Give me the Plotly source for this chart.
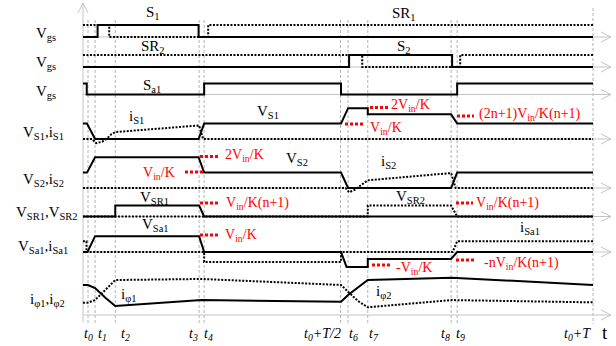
import plotly.graph_objects as go

# ---------------- time instants (t0 = 0, period T = 100) ----------------
t0, t1, t2, t3, t4 = 0.0, 1.4, 5.4, 22.0, 23.0
tH, t6, t7, t8, t9, tT = 50.0, 51.5, 55.4, 71.9, 73.1, 100.0
tick_times = [t0, t1, t2, t3, t4, tH, t6, t7, t8, t9, tT]
tick_labels = ["t<sub>0</sub>", "t<sub>1</sub>", "t<sub>2</sub>", "t<sub>3</sub>", "t<sub>4</sub>",
               "t<sub>0</sub>+T/2", "t<sub>6</sub>", "t<sub>7</sub>", "t<sub>8</sub>", "t<sub>9</sub>",
               "t<sub>0</sub>+T"]

# ---------------- gate signals (0 = off, 1 = on) ----------------
s1_t = [-1, 1.9, 1.9, 21.9, 21.9, 100]
s1_v = [0, 0, 1, 1, 0, 0]
sr1_t = [-1, 4.2, 4.2, 23.8, 23.8, 100]
sr1_v = [1, 1, 0, 0, 1, 1]
s2_t = [-1, 51.7, 51.7, 72.1, 72.1, 100]
s2_v = [0, 0, 1, 1, 0, 0]
sr2_t = [-1, 54.3, 54.3, 73.7, 73.7, 100]
sr2_v = [1, 1, 0, 0, 1, 1]
sa1_t = [-1, -0.25, -0.25, 23, 23, 50.1, 50.1, 73.1, 73.1, 100]
sa1_v = [1, 1, 0, 0, 1, 1, 0, 0, 1, 1]

# ---------------- switch voltages / currents (unit = Vin/K) ----------------
vs1_t = [-1, -0.2, 1.4, 21.9, 23, 50.1, 51.5, 55.4, 55.4, 71.9, 73.1, 100]
vs1_v = [1, 1, 0, 0, 1, 1, 2, 2, 1.6, 1.6, 1, 1]
is1_t = [-1, 0.8, 1.6, 2.8, 3.8, 4.6, 5.4, 22, 22.8, 100]
is1_v = [0, 0, -0.27, -0.18, 0.05, 0.3, 0.45, 0.88, 0, 0]

vs2_t = [-1, -0.2, 1.4, 21.9, 23, 50.1, 51.5, 71.9, 73.1, 100]
vs2_v = [1, 1, 2, 2, 1, 1, 0, 0, 1, 1]
is2_t = [-1, 51.0, 51.7, 52.8, 53.9, 54.8, 55.4, 71.9, 72.8, 100]
is2_v = [0, 0, -0.28, -0.12, 0.15, 0.38, 0.5, 0.97, 0, 0]

vsr1_t = [-1, 5.4, 5.4, 22, 23, 100]
vsr1_v = [0, 0, 0.71, 0.71, 0, 0]
vsr2_t = [-1, 55.4, 55.4, 71.9, 73.1, 100]
vsr2_v = [0, 0, 0.71, 0.71, 0, 0]

vsa1_t = [-1, -0.1, 1.4, 22, 23, 50.1, 51.2, 55.4, 55.4, 71.9, 73.1, 100]
vsa1_v = [0, 0, 1.03, 1.03, 0, 0, -0.97, -0.97, -0.45, -0.45, 0, 0]
isa1_t = [-1, -0.3, -0.3, 23, 23, 50.1, 50.1, 72.2, 73.1, 100]
isa1_v = [0.7, 0.7, 0, 0, -0.65, -0.65, 0, 0, 0.7, 0.7]

# ---------------- resonant currents ----------------
iphi2_t = [-1, 0, 1.4, 3.5, 5.4, 22.5, 50.1, 51.5, 55.4, 72, 100]
iphi2_v = [1.95, 1.95, 1.75, 1.1, 0.58, 0.97, 0.86, 1.3, 2.27, 2.42, 1.95]
iphi1_t = [-1, 0, 1.4, 3.0, 5.4, 22.5, 50.1, 51.5, 53.5, 55.4, 72, 100]
iphi1_v = [0.8, 0.8, 0.97, 1.51, 2.27, 2.34, 1.95, 1.51, 0.9, 0.5, 0.97, 0.82]

# ---------------- text ----------------
row_labels = ["V<sub>gs</sub>", "V<sub>gs</sub>", "V<sub>gs</sub>", "V<sub>S1</sub>,i<sub>S1</sub>",
              "V<sub>S2</sub>,i<sub>S2</sub>", "V<sub>SR1</sub>,V<sub>SR2</sub>",
              "V<sub>Sa1</sub>,i<sub>Sa1</sub>", "i<sub>φ1</sub>,i<sub>φ2</sub>"]
wave_labels = ["S<sub>1</sub>", "SR<sub>1</sub>", "SR<sub>2</sub>", "S<sub>2</sub>", "S<sub>a1</sub>",
               "i<sub>S1</sub>", "V<sub>S1</sub>", "V<sub>S2</sub>", "i<sub>S2</sub>",
               "V<sub>SR1</sub>", "V<sub>SR2</sub>", "V<sub>Sa1</sub>", "i<sub>Sa1</sub>",
               "i<sub>φ1</sub>", "i<sub>φ2</sub>"]
red_labels = ["2V<sub>in</sub>/K", "V<sub>in</sub>/K", "(2n+1)V<sub>in</sub>/K(n+1)",
              "2V<sub>in</sub>/K", "V<sub>in</sub>/K", "V<sub>in</sub>/K(n+1)", "V<sub>in</sub>/K(n+1)",
              "V<sub>in</sub>/K", "-V<sub>in</sub>/K", "-nV<sub>in</sub>/K(n+1)"]

# ---------------- layout helpers (positions / styles) ----------------
W, H = 616, 346
PX0, PXS = 88.0, 5.05
def tx(px):
    return (px - PX0) / PXS

UNIT = 15.4
GATE = 12
BASES = [37, 67, 94.5, 139, 188, 216.5, 252, 315]
SERIF = "Liberation Serif, Times New Roman, serif"
GRAY = "#c4c4c4"

fig = go.Figure()

def wave(t, v, base, scale, dotted=False, color="black", width=2):
    fig.add_trace(go.Scatter(
        x=t, y=[base - scale * val for val in v], mode="lines",
        line=dict(color=color, width=width, dash="2px,1.5px" if dotted else "solid"),
        hoverinfo="skip", showlegend=False))

shapes = []
# dashed time markers
for tt in tick_times:
    shapes.append(dict(type="line", xref="x", yref="y", x0=tt, x1=tt,
                       y0=(8 if tt == tT else 20), y1=324, layer="below",
                       line=dict(color="#b4b4b4", width=1, dash="3px,2px")))
# row axes with open arrowheads
xa0, xa1 = tx(83), tx(611)
for b in BASES:
    shapes.append(dict(type="line", xref="x", yref="y", x0=xa0, x1=xa1, y0=b, y1=b,
                       layer="below", line=dict(color=GRAY, width=1)))
    shapes.append(dict(type="path", xref="x", yref="y", layer="below",
                       path=f"M {tx(601)},{b-5} L {xa1},{b} L {tx(601)},{b+5}",
                       line=dict(color=GRAY, width=1)))
# vertical axis
shapes.append(dict(type="line", xref="x", yref="y", x0=xa0, x1=xa0, y0=322, y1=3,
                   layer="below", line=dict(color=GRAY, width=1)))
shapes.append(dict(type="path", xref="x", yref="y", layer="below",
                   path=f"M {tx(78)},{13} L {xa0},{3} L {tx(88)},{13}",
                   line=dict(color=GRAY, width=1)))

# gates
wave(sr1_t, sr1_v, BASES[0], GATE, dotted=True)
wave(s1_t, s1_v, BASES[0], GATE)
wave(sr2_t, sr2_v, BASES[1], GATE, dotted=True)
wave(s2_t, s2_v, BASES[1], GATE)
wave(sa1_t, sa1_v, BASES[2], 11)
# switch waveforms
wave(is1_t, is1_v, BASES[3], UNIT, dotted=True)
wave(vs1_t, vs1_v, BASES[3], UNIT)
wave(is2_t, is2_v, BASES[4], UNIT, dotted=True)
wave(vs2_t, vs2_v, BASES[4], UNIT)
wave(vsr2_t, vsr2_v, BASES[5], UNIT, dotted=True)
wave(vsr1_t, vsr1_v, BASES[5], UNIT)
wave(isa1_t, isa1_v, BASES[6], UNIT, dotted=True)
wave(vsa1_t, vsa1_v, BASES[6], UNIT)
wave(iphi1_t, iphi1_v, BASES[7], UNIT, dotted=True)
wave(iphi2_t, iphi2_v, BASES[7], UNIT)

ann = []
def label(text, px, py, size=15, color="black", italic=False, xanchor="center"):
    if italic:
        text = "<i>" + text + "</i>"
    ann.append(dict(x=tx(px), y=py, xref="x", yref="y", text=text, showarrow=False,
                    xanchor=xanchor, yanchor="middle",
                    font=dict(family=SERIF, size=size, color=color)))

row_pos = [(46, 34), (46, 63), (46, 92), (43, 133), (43, 180), (47, 213), (43, 247), (47, 300)]
for txt, (px, py) in zip(row_labels, row_pos):
    label(txt, px, py)

wave_pos = [(153, 13), (404, 14), (153, 47), (404, 47), (152, 86),
            (136, 117), (268, 112), (297, 159), (388, 162),
            (154, 198), (410, 197), (155, 225), (530, 228),
            (128, 295), (383, 292)]
for txt, (px, py) in zip(wave_labels, wave_pos):
    label(txt, px, py)

red_pos = [(410, 105, 370, 389, 107.5), (386, 128, 345, 363, 124), (530, 114, 457, 474, 116),
           (244, 155, 200, 219, 156.5), (159, 173, 185, 203, 172), (257, 203, 200, 219, 203),
           (507, 203, 456, 473, 203), (241, 235, 200, 219, 235), (414, 268, 372, 390, 265),
           (521, 263, 456, 474, 260)]
for txt, (px, py, d0, d1, dy) in zip(red_labels, red_pos):
    label(txt, px, py, size=14, color="#ff0000")
    fig.add_trace(go.Scatter(x=[tx(d0), tx(d1)], y=[dy, dy], mode="lines",
                             line=dict(color="#ff0000", width=3, dash="3px,2px"),
                             hoverinfo="skip", showlegend=False))

tick_px = [88, 102, 125, 193, 208, 322, 353, 374, 445, 460, 577]
for txt, px in zip(tick_labels, tick_px):
    label(txt, px, 334, size=14, italic=True)
label("t", 605, 332, size=19)

fig.update_layout(
    width=W, height=H, margin=dict(l=0, r=0, t=0, b=0),
    paper_bgcolor="white", plot_bgcolor="white",
    xaxis=dict(range=[tx(0), tx(W)], visible=False, fixedrange=True),
    yaxis=dict(range=[H, 0], visible=False, fixedrange=True),
    shapes=shapes, annotations=ann, showlegend=False,
)
fig.write_html("out.html", config={"displayModeBar": False},
               post_script="document.body.style.margin='0px';document.body.style.overflow='hidden';")
